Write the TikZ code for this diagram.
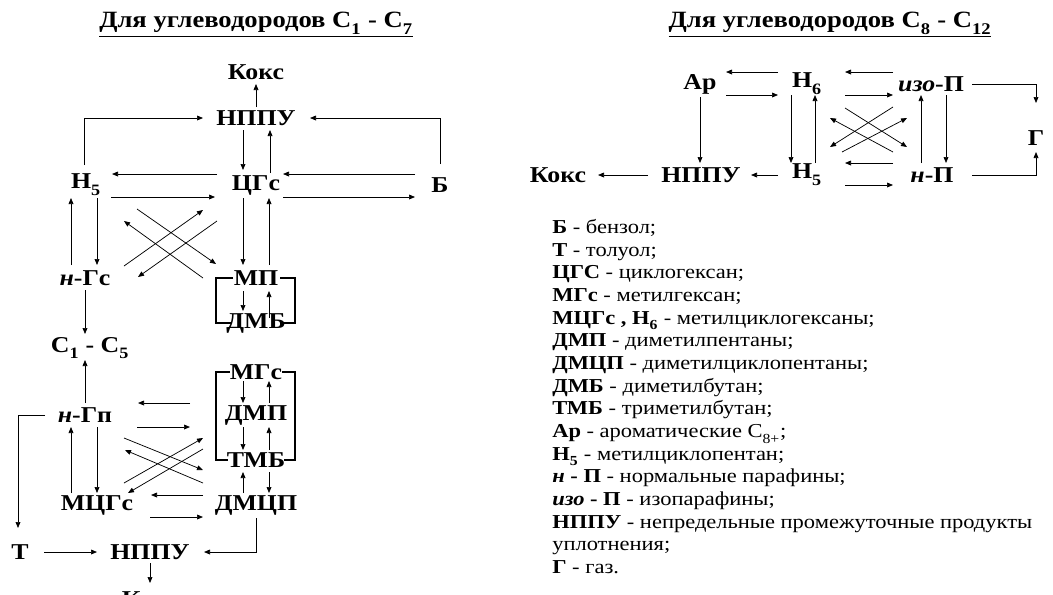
\documentclass[tikz,border=0pt]{standalone}
\usepackage{fontspec}
\setmainfont{Liberation Serif}[FakeStretch=1.14]
\usepackage{tikz}
\usetikzlibrary{arrows.meta,calc}

\tikzset{
  lbl/.style={font=\bfseries\fontsize{17}{19}\selectfont,inner sep=1pt},
  ttl/.style={font=\bfseries\fontsize{17.5}{19}\selectfont,inner sep=1pt},
  arr/.style={-{Triangle[length=4.5pt,width=3.6pt]},line width=0.55pt},
  brk/.style={line width=1.8pt},
}
\newcommand{\sbs}[1]{\textsubscript{\raisebox{-0.45ex}{#1}}}

\begin{document}
\begin{tikzpicture}[x=0.75pt,y=-0.75pt]
  \useasboundingbox (0,0) rectangle (1053,594);
  \clip (0,0) rectangle (1053,594);

  % C1 - C7
  \node[ttl] (t1) at (256,25) {\underline{Для углеводородов С\sbs{1} - С\sbs{7}}};
  \node[lbl] (koks1) at (256,72) {Кокс};
  \node[lbl] (nppu1) at (256,118) {НППУ};
  \node[lbl] (h5a) at (86,185) {Н\sbs{5}};
  \node[lbl] (cgs) at (256,185) {ЦГс};
  \node[lbl] (b) at (440,185) {Б};
  \node[lbl] (ngs) at (85,278) {\textit{н}-Гс};
  \node[lbl] (mp) at (256,278) {МП};
  \node[lbl] (dmb) at (256,323) {ДМБ};
  \node[lbl] (c15) at (90,348) {С\sbs{1} - С\sbs{5}};
  \node[lbl] (mgs) at (256,372) {МГс};
  \node[lbl] (dmp) at (256,415) {ДМП};
  \node[lbl] (tmb) at (256,460) {ТМБ};
  \node[lbl] (ngp) at (85,415) {\textit{н}-Гп};
  \node[lbl] (mcgs) at (97,505) {МЦГс};
  \node[lbl] (dmcp) at (256,505) {ДМЦП};
  \node[lbl] (t) at (20,552) {Т};
  \node[lbl] (nppu2) at (150,552) {НППУ};
  \node[lbl] (koks2) at (150,599) {Кокс};

  \draw[arr] ($(nppu1)+(0,-11)$) -- ($(koks1)+(0,12)$);
  \draw[arr] ($(h5a)+(-2,-20)$) |- ($(nppu1)+(-53,0)$);
  \draw[arr] ($(b)+(0,-21)$) |- ($(nppu1)+(54,0)$);
  \draw[arr] ($(nppu1)+(-13,12)$) -- ($(cgs)+(-13,-15)$);
  \draw[arr] ($(cgs)+(14,-12)$) -- ($(nppu1)+(14,12)$);
  \draw[arr] ($(cgs)+(-39,-11)$) -- ($(h5a)+(26,-11)$);
  \draw[arr] ($(h5a)+(25,12)$) -- ($(cgs)+(-41,12)$);
  \draw[arr] ($(b)+(-25,-11)$) -- ($(cgs)+(27,-11)$);
  \draw[arr] ($(cgs)+(27,12)$) -- ($(b)+(-25,12)$);
  \draw[arr] ($(cgs)+(-13,13)$) -- ($(mp)+(-13,-13)$);
  \draw[arr] ($(mp)+(13,-13)$) -- ($(cgs)+(13,13)$);
  \draw[arr] ($(h5a)+(11,13)$) -- ($(ngs)+(12,-13)$);
  \draw[arr] ($(ngs)+(-14,-13)$) -- ($(h5a)+(-15,13)$);
  \draw[arr] ($(h5a)+(51,24)$) -- ($(mp)+(-40,-14)$);
  \draw[arr] ($(mp)+(-53,0)$) -- ($(h5a)+(38,36)$);
  \draw[arr] ($(ngs)+(39,-12)$) -- ($(cgs)+(-53,25)$);
  \draw[arr] ($(cgs)+(-39,36)$) -- ($(ngs)+(53,-1)$);
  \draw[arr] ($(ngs)+(0,12)$) -- ($(c15)+(-5,-14)$);
  \draw[arr] ($(ngp)+(0,-12)$) -- ($(c15)+(-5,12)$);
  \draw[arr] ($(mp)+(-13,13)$) -- ($(dmb)+(-13,-12)$);
  \draw[arr] ($(dmb)+(13,-5)$) -- ($(mp)+(13,13)$);
  \draw[brk] ($(mp)+(-23,0)$) -- ($(mp)+(-40,0)$) |- ($(dmb)+(-24,0)$);
  \draw[brk] ($(mp)+(24,0)$) -- ($(mp)+(39,0)$) |- ($(dmb)+(24,0)$);
  \draw[brk] ($(mgs)+(-26,0)$) -- ($(mgs)+(-40,0)$) |- ($(tmb)+(-28,0)$);
  \draw[brk] ($(mgs)+(26,0)$) -- ($(mgs)+(39,0)$) |- ($(tmb)+(28,0)$);
  \draw[arr] ($(mgs)+(-13,9)$) -- ($(dmp)+(-13,-12)$);
  \draw[arr] ($(dmp)+(13,-12)$) -- ($(mgs)+(13,9)$);
  \draw[arr] ($(dmp)+(-13,12)$) -- ($(tmb)+(-13,-10)$);
  \draw[arr] ($(tmb)+(13,-10)$) -- ($(dmp)+(13,12)$);
  \draw[arr] ($(dmcp)+(-13,-12)$) -- ($(tmb)+(-13,12)$);
  \draw[arr] ($(tmb)+(13,12)$) -- ($(dmcp)+(13,-12)$);
  \draw[arr] ($(dmp)+(-66,-12)$) -- ($(ngp)+(53,-12)$);
  \draw[arr] ($(ngp)+(52,12)$) -- ($(dmp)+(-66,12)$);
  \draw[arr] ($(ngp)+(12,12)$) -- ($(mcgs)+(0,-12)$);
  \draw[arr] ($(mcgs)+(-26,-12)$) -- ($(ngp)+(-14,12)$);
  \draw[arr] ($(ngp)+(39,23)$) -- ($(tmb)+(-53,10)$);
  \draw[arr] ($(dmcp)+(-53,-22)$) -- ($(ngp)+(40,35)$);
  \draw[arr] ($(mcgs)+(27,-22)$) -- ($(tmb)+(-53,-22)$);
  \draw[arr] ($(tmb)+(-53,-11)$) -- ($(mcgs)+(31,-12)$);
  \draw[arr] ($(dmcp)+(-53,-10)$) -- ($(mcgs)+(54,-10)$);
  \draw[arr] ($(mcgs)+(53,12)$) -- ($(dmcp)+(-53,12)$);
  \draw[arr] ($(ngp)+(-40,0)$) -| ($(t)+(-2,-24)$);
  \draw[arr] ($(t)+(24,0)$) -- ($(nppu2)+(-53,0)$);
  \draw[arr] ($(dmcp)+(0,13)$) |- ($(nppu2)+(54,0)$);
  \draw[arr] ($(nppu2)+(0,11)$) -- ($(koks2)+(0,-16)$);

  % C8 - C12
  \node[ttl] (t2) at (830,25) {\underline{Для углеводородов С\sbs{8} - С\sbs{12}}};
  \node[lbl] (ar) at (700,84) {Ар};
  \node[lbl] (h6) at (807,84) {Н\sbs{6}};
  \node[lbl] (izop) at (931,84) {\textit{изо}-П};
  \node[lbl] (g) at (1036,138) {Г};
  \node[lbl] (koks3) at (558,175) {Кокс};
  \node[lbl] (nppu3) at (701,175) {НППУ};
  \node[lbl] (h5b) at (807,175) {Н\sbs{5}};
  \node[lbl] (np) at (932,175) {\textit{н}-П};

  \draw[arr] ($(h6)+(-29,-12)$) -- ($(ar)+(26,-12)$);
  \draw[arr] ($(ar)+(26,11)$) -- ($(h6)+(-29,11)$);
  \draw[arr] ($(izop)+(-38,-12)$) -- ($(h6)+(38,-12)$);
  \draw[arr] ($(h6)+(38,11)$) -- ($(izop)+(-38,11)$);
  \draw[arr] ($(ar)+(0,13)$) -- ($(nppu3)+(-1,-12)$);
  \draw[arr] ($(h6)+(-16,11)$) -- ($(h5b)+(-16,-12)$);
  \draw[arr] ($(h5b)+(8,-12)$) -- ($(h6)+(8,11)$);
  \draw[arr] ($(izop)+(15,11)$) -- ($(np)+(14,-12)$);
  \draw[arr] ($(np)+(-11,-12)$) -- ($(izop)+(-10,11)$);
  \draw[arr] ($(h6)+(38,24)$) -- ($(np)+(-25,-28)$);
  \draw[arr] ($(izop)+(-38,23)$) -- ($(h5b)+(23,-28)$);
  \draw[arr] ($(np)+(-39,-23)$) -- ($(h6)+(23,34)$);
  \draw[arr] ($(h5b)+(35,-23)$) -- ($(izop)+(-24,34)$);
  \draw[arr] ($(np)+(-39,-12)$) -- ($(h5b)+(38,-12)$);
  \draw[arr] ($(h5b)+(38,10)$) -- ($(np)+(-39,10)$);
  \draw[arr] ($(h5b)+(-29,0)$) -- ($(nppu3)+(50,0)$);
  \draw[arr] ($(nppu3)+(-53,0)$) -- ($(koks3)+(40,0)$);
  \draw[arr] ($(izop)+(41,0)$) -| ($(g)+(0,-35)$);
  \draw[arr] ($(np)+(40,0)$) -| ($(g)+(0,14)$);

  % legend
  \node[anchor=north west,inner sep=0pt,align=left,
        font=\fontsize{14.8}{17}\selectfont] (legend) at (552,219) {%
    \textbf{Б} - бензол;\\
    \textbf{Т} - толуол;\\
    \textbf{ЦГС} - циклогексан;\\
    \textbf{МГс} - метилгексан;\\
    \textbf{МЦГс , Н\sbs{6}} - метилциклогексаны;\\
    \textbf{ДМП} - диметилпентаны;\\
    \textbf{ДМЦП} - диметилциклопентаны;\\
    \textbf{ДМБ} - диметилбутан;\\
    \textbf{ТМБ} - триметилбутан;\\
    \textbf{Ар} - ароматические С\sbs{8+};\\
    \textbf{Н\sbs{5}} - метилциклопентан;\\
    \textbf{\textit{н} - П} - нормальные парафины;\\
    \textbf{\textit{изо} - П} - изопарафины;\\
    \textbf{НППУ} - непредельные промежуточные продукты\\
    уплотнения;\\
    \textbf{Г} - газ.};
\end{tikzpicture}
\end{document}
